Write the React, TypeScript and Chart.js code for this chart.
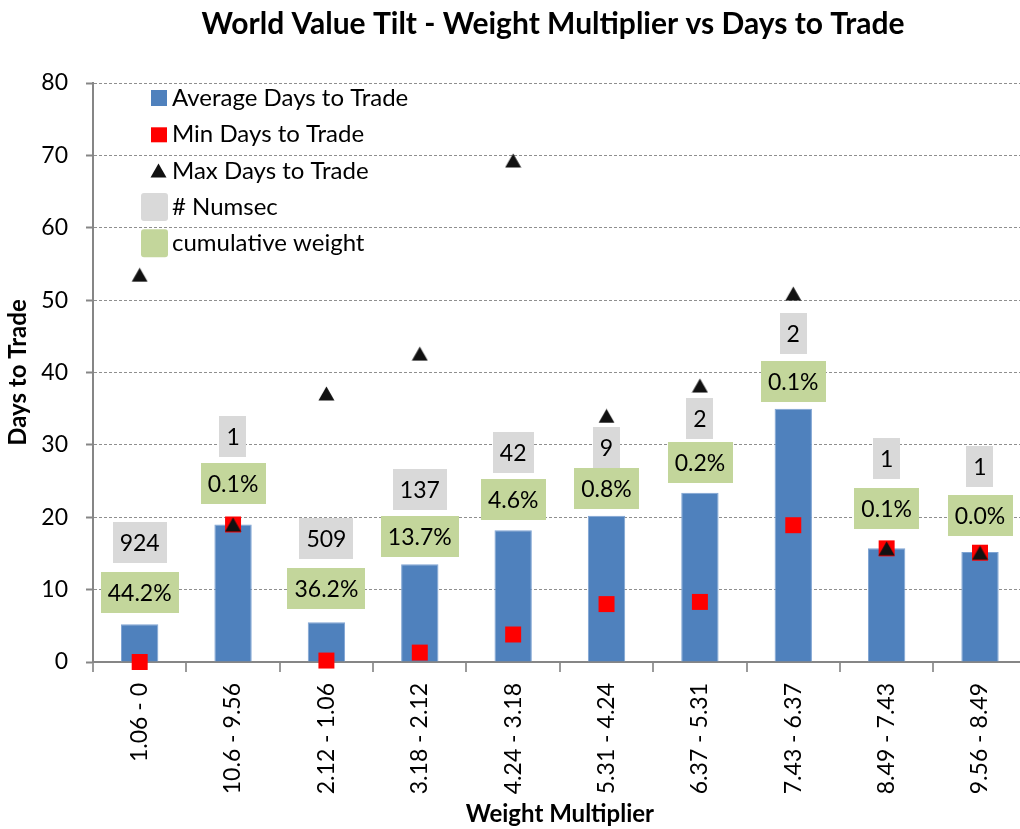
import React, { useEffect, useRef } from "react";
import { Chart, registerables } from "chart.js";

Chart.register(...registerables);

const FONT = "Lato";

const categories = [
  "1.06 - 0",
  "10.6 - 9.56",
  "2.12 - 1.06",
  "3.18 - 2.12",
  "4.24 - 3.18",
  "5.31 - 4.24",
  "6.37 - 5.31",
  "7.43 - 6.37",
  "8.49 - 7.43",
  "9.56 - 8.49",
];
const avgDays = [5.2, 19.0, 5.5, 13.5, 18.2, 20.2, 23.4, 35.0, 15.7, 15.2];
const minDays = [0.0, 19.0, 0.2, 1.3, 3.8, 8.0, 8.3, 18.9, 15.7, 15.1];
const maxDays = [53.5, 19.0, 37.1, 42.6, 69.3, 34.0, 38.2, 50.9, 15.7, 15.1];
const numsecText = ["924", "1", "509", "137", "42", "9", "2", "2", "1", "1"];
const numsecLevel = [16.5, 31.1, 17.1, 23.8, 29.0, 29.7, 33.6, 45.4, 28.1, 27.0];
const cumWeightText = ["44.2%", "0.1%", "36.2%", "13.7%", "4.6%", "0.8%", "0.2%", "0.1%", "0.1%", "0.0%"];
const cumWeightLevel = [9.6, 24.7, 10.2, 17.4, 22.4, 24.0, 27.5, 38.7, 21.2, 20.2];
const yMin = 0;
const yMax = 80;
const yStep = 10;

const chartTitle = "World Value Tilt - Weight Multiplier vs Days to Trade";
const legendItems = [
  { label: "Average Days to Trade", kind: "bar" },
  { label: "Min Days to Trade", kind: "rect" },
  { label: "Max Days to Trade", kind: "triangle" },
  { label: "# Numsec", kind: "gray" },
  { label: "cumulative weight", kind: "green" },
];

const BLUE = "#4F81BD";
const RED = "#FF0000";
const BLACK = "#000000";
const GRAY_BOX = "#D9D9D9";
const GREEN_BOX = "#C3D69B";
const AXIS = "#868686";

function makeTriangle(): HTMLCanvasElement {
  const c = document.createElement("canvas");
  c.width = 17;
  c.height = 15;
  const g = c.getContext("2d")!;
  g.fillStyle = "#111111";
  g.beginPath();
  g.moveTo(8.5, 0.5);
  g.lineTo(16.5, 14.5);
  g.lineTo(0.5, 14.5);
  g.closePath();
  g.fill();
  return c;
}

function drawLabelBoxes(chart: any, datasetIndex: number, texts: string[], fill: string) {
  const ctx = chart.ctx as CanvasRenderingContext2D;
  const meta = chart.getDatasetMeta(datasetIndex);
  ctx.save();
  ctx.font = `23px ${FONT}`;
  ctx.textAlign = "center";
  ctx.textBaseline = "alphabetic";
  meta.data.forEach((pt: any, i: number) => {
    const t = texts[i];
    const w = ctx.measureText(t).width + 14;
    const h = 41;
    ctx.fillStyle = fill;
    ctx.fillRect(Math.round(pt.x - w / 2), Math.round(pt.y - h / 2), Math.round(w), h);
    ctx.fillStyle = BLACK;
    ctx.fillText(t, pt.x, pt.y + 8.5);
  });
  ctx.restore();
}

function roundRect(ctx: CanvasRenderingContext2D, x: number, y: number, w: number, h: number, r: number) {
  ctx.beginPath();
  ctx.moveTo(x + r, y);
  ctx.lineTo(x + w - r, y);
  ctx.quadraticCurveTo(x + w, y, x + w, y + r);
  ctx.lineTo(x + w, y + h - r);
  ctx.quadraticCurveTo(x + w, y + h, x + w - r, y + h);
  ctx.lineTo(x + r, y + h);
  ctx.quadraticCurveTo(x, y + h, x, y + h - r);
  ctx.lineTo(x, y + r);
  ctx.quadraticCurveTo(x, y, x + r, y);
  ctx.closePath();
}

const overlayPlugin = {
  id: "overlay",
  afterDatasetsDraw(chart: any) {
    drawLabelBoxes(chart, 3, numsecText, GRAY_BOX);
    drawLabelBoxes(chart, 4, cumWeightText, GREEN_BOX);
  },
  afterDraw(chart: any) {
    const ctx = chart.ctx as CanvasRenderingContext2D;
    ctx.save();
    ctx.font = `bold 30px ${FONT}`;
    ctx.fillStyle = BLACK;
    ctx.textAlign = "center";
    ctx.textBaseline = "alphabetic";
    ctx.fillText(chartTitle, 553, 34);

    ctx.font = `24px ${FONT}`;
    ctx.textAlign = "left";
    const textX = 172;
    const base0 = 106;
    const spacing = 36.3;
    legendItems.forEach((item, i) => {
      const baseY = base0 + i * spacing;
      const cy = baseY - 8;
      if (item.kind === "bar") {
        ctx.fillStyle = BLUE;
        ctx.fillRect(151, cy - 8, 16, 16);
      } else if (item.kind === "rect") {
        ctx.fillStyle = RED;
        ctx.fillRect(151, cy - 7, 16, 15);
      } else if (item.kind === "triangle") {
        ctx.fillStyle = "#111111";
        ctx.beginPath();
        ctx.moveTo(158.5, cy - 7);
        ctx.lineTo(166.5, cy + 7);
        ctx.lineTo(150.5, cy + 7);
        ctx.closePath();
        ctx.fill();
      } else {
        ctx.fillStyle = item.kind === "gray" ? GRAY_BOX : GREEN_BOX;
        roundRect(ctx, 141, cy - 14, 27, 28, 3);
        ctx.fill();
      }
      ctx.fillStyle = BLACK;
      ctx.fillText(item.label, textX, baseY);
    });
    ctx.restore();
  },
};

export default function App() {
  const ref = useRef<HTMLCanvasElement>(null);

  useEffect(() => {
    const canvas = ref.current;
    if (!canvas) return;
    const tri = makeTriangle();
    const chart = new Chart(canvas, {
      type: "bar",
      data: {
        labels: categories,
        datasets: [
          {
            type: "bar",
            label: "Average Days to Trade",
            data: avgDays,
            backgroundColor: BLUE,
            borderColor: "#7FA4D3",
            borderWidth: 1,
            barPercentage: 0.4,
            categoryPercentage: 1,
            order: 5,
          } as any,
          {
            type: "line",
            label: "Min Days to Trade",
            data: minDays,
            showLine: false,
            clip: false,
            pointStyle: "rect",
            pointRadius: 11.3,
            pointBackgroundColor: RED,
            pointBorderColor: RED,
            pointBorderWidth: 0,
            backgroundColor: RED,
            borderColor: RED,
            order: 4,
          } as any,
          {
            type: "line",
            label: "Max Days to Trade",
            data: maxDays,
            showLine: false,
            clip: false,
            pointStyle: tri,
            pointRadius: 9,
            pointBackgroundColor: BLACK,
            pointBorderColor: BLACK,
            pointBorderWidth: 0,
            backgroundColor: BLACK,
            borderColor: BLACK,
            order: 3,
          } as any,
          {
            type: "line",
            label: "# Numsec",
            data: numsecLevel,
            showLine: false,
            pointRadius: 0,
            order: 2,
          } as any,
          {
            type: "line",
            label: "cumulative weight",
            data: cumWeightLevel,
            showLine: false,
            pointRadius: 0,
            order: 1,
          } as any,
        ],
      },
      options: {
        responsive: false,
        animation: false,
        devicePixelRatio: 1,
        events: [],
        layout: { padding: { top: 83, left: 0, right: 3, bottom: 0 } },
        plugins: {
          legend: { display: false },
          title: { display: false },
          tooltip: { enabled: false },
        },
        scales: {
          x: {
            offset: true,
            grid: {
              display: true,
              drawOnChartArea: false,
              drawTicks: true,
              tickLength: 10,
              color: "#9a9a9a",
              lineWidth: 2,
            },
            border: { display: true, color: AXIS, width: 2 },
            ticks: {
              autoSkip: false,
              minRotation: 90,
              maxRotation: 90,
              padding: 11,
              color: BLACK,
              font: { family: FONT, size: 23 },
            },
            title: {
              display: true,
              text: "Weight Multiplier",
              color: BLACK,
              font: { family: FONT, size: 24, weight: "bold" },
              padding: { top: 0, bottom: 0 },
            },
            afterFit: (s: any) => {
              s.height = 167;
            },
          },
          y: {
            min: yMin,
            max: yMax,
            ticks: {
              stepSize: yStep,
              padding: 18,
              color: BLACK,
              font: { family: FONT, size: 23 },
            },
            grid: {
              color: "#8f8f8f",
              lineWidth: 1,
              tickLength: 7,
              tickColor: AXIS,
              tickWidth: 2,
            },
            border: { display: true, color: AXIS, width: 2, dash: [3, 2] },
            title: {
              display: true,
              text: "Days to Trade",
              color: BLACK,
              font: { family: FONT, size: 24, weight: "bold" },
              padding: { top: 4, bottom: 0 },
            },
            afterFit: (s: any) => {
              s.width = 93;
            },
          },
        },
      },
      plugins: [overlayPlugin],
    } as any);
    return () => chart.destroy();
  }, []);

  return (
    <div
      style={{
        position: "fixed",
        left: 0,
        top: 0,
        width: 1020,
        height: 829,
        overflow: "hidden",
        background: "#ffffff",
      }}
    >
      <canvas ref={ref} width={1038} height={829} style={{ display: "block", width: 1038, height: 829 }} />
    </div>
  );
}
